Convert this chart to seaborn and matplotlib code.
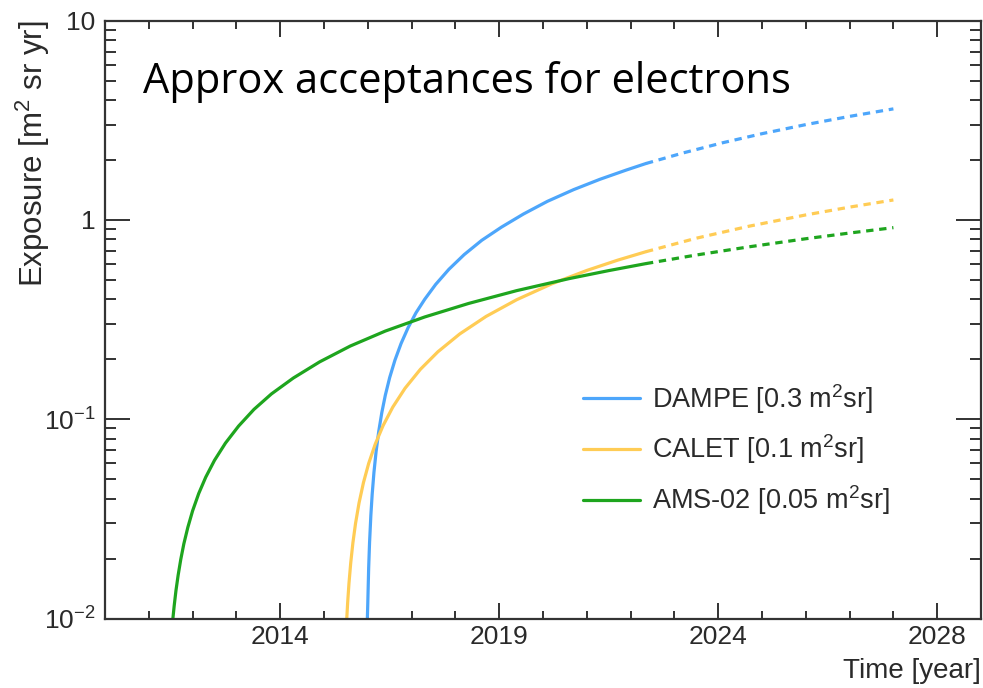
import matplotlib
matplotlib.use("Agg")
import numpy as np
import pandas as pd
import matplotlib.pyplot as plt
import matplotlib.dates as mdates
from matplotlib.ticker import FixedLocator, FixedFormatter, NullFormatter
import seaborn as sns

# --- data: exposure [m^2 sr yr] versus time (decimal years) ---
dampe_years = [2015.99, 2016.00, 2016.02, 2016.04, 2016.07, 2016.10, 2016.14, 2016.19,
               2016.25, 2016.32, 2016.40, 2016.50, 2016.62, 2016.76, 2016.92, 2017.10,
               2017.30, 2017.55, 2017.85, 2018.20, 2018.60, 2019.05, 2019.55, 2020.10,
               2020.70, 2021.30, 2021.90, 2022.35]
dampe_expo = [0.010, 0.012, 0.018, 0.024, 0.033, 0.042, 0.054, 0.069,
              0.087, 0.108, 0.132, 0.162, 0.198, 0.240, 0.288, 0.342,
              0.40, 0.475, 0.565, 0.67, 0.79, 0.92, 1.07, 1.24,
              1.42, 1.60, 1.78, 1.92]
dampe_proj_years = [2022.35, 2023.20, 2024.10, 2025.00, 2026.00, 2027.00, 2028.00]
dampe_proj_expo = [1.92, 2.17, 2.44, 2.71, 3.01, 3.31, 3.61]

calet_years = [2015.52, 2015.54, 2015.57, 2015.61, 2015.66, 2015.72, 2015.80, 2015.90,
               2016.02, 2016.17, 2016.35, 2016.57, 2016.85, 2017.20, 2017.60, 2018.10,
               2018.70, 2019.40, 2020.20, 2021.00, 2021.70, 2022.35]
calet_expo = [0.010, 0.012, 0.015, 0.019, 0.024, 0.030, 0.038, 0.048,
              0.060, 0.075, 0.093, 0.115, 0.143, 0.178, 0.218, 0.268,
              0.328, 0.398, 0.478, 0.558, 0.628, 0.693]
calet_proj_years = [2022.35, 2023.50, 2024.70, 2026.00, 2027.00, 2028.00]
calet_proj_expo = [0.693, 0.81, 0.93, 1.06, 1.16, 1.26]

ams_years = [2011.55, 2011.58, 2011.62, 2011.67, 2011.73, 2011.80, 2011.89, 2012.00,
             2012.14, 2012.30, 2012.50, 2012.75, 2013.05, 2013.40, 2013.80, 2014.30,
             2014.90, 2015.60, 2016.40, 2017.30, 2018.30, 2019.40, 2020.60, 2021.50,
             2022.35]
ams_expo = [0.010, 0.0116, 0.0138, 0.0165, 0.0198, 0.0237, 0.0286, 0.0347,
            0.0424, 0.0512, 0.0622, 0.0759, 0.0924, 0.112, 0.134, 0.161,
            0.194, 0.233, 0.277, 0.326, 0.381, 0.442, 0.508, 0.557,
            0.604]
ams_proj_years = [2022.35, 2023.50, 2024.70, 2026.00, 2027.00, 2028.00]
ams_proj_expo = [0.604, 0.667, 0.733, 0.805, 0.860, 0.915]

labels = ["DAMPE [0.3 m$^2$sr]", "CALET [0.1 m$^2$sr]", "AMS-02 [0.05 m$^2$sr]"]
colors = ["#4da6fb", "#ffcc55", "#1ea51e"]
year_tick_labels = ["2014", "2019", "2024", "2028"]
y_tick_values = [0.01, 0.1, 1, 10]
y_tick_labels = ["$10^{-2}$", "$10^{-1}$", "1", "10"]

BASE = pd.Timestamp("2010-01-01")


def to_dates(years):
    return [BASE + pd.Timedelta(days=(y - 2010.0) * 365.25) for y in years]


sns.set_theme(style="ticks")
plt.rcParams["font.family"] = ["Liberation Sans", "DejaVu Sans"]
plt.rcParams["mathtext.fontset"] = "custom"
plt.rcParams["mathtext.rm"] = "Liberation Sans"
plt.rcParams["mathtext.it"] = "Liberation Sans:italic"
plt.rcParams["mathtext.bf"] = "Liberation Sans:bold"

fig = plt.figure(figsize=(9.83, 6.88), dpi=100)
ax = fig.add_axes([105 / 983, 1 - 618.5 / 688, 876 / 983, (618.5 - 20.7) / 688])

series = [
    (dampe_years, dampe_expo, dampe_proj_years, dampe_proj_expo),
    (calet_years, calet_expo, calet_proj_years, calet_proj_expo),
    (ams_years, ams_expo, ams_proj_years, ams_proj_expo),
]
for (yrs, ex, pyrs, pex), lab, col in zip(series, labels, colors):
    df = pd.DataFrame({"time": to_dates(yrs), "exposure": ex})
    dfp = pd.DataFrame({"time": to_dates(pyrs), "exposure": pex})
    sns.lineplot(data=df, x="time", y="exposure", ax=ax, color=col, lw=2.3,
                 label=lab, estimator=None, sort=False)
    sns.lineplot(data=dfp, x="time", y="exposure", ax=ax, color=col, lw=2.3,
                 estimator=None, sort=False, linestyle=(0, (2.3, 1.8)))

ax.set_yscale("log")
ax.set_ylim(0.01, 10)
ax.set_xlim(mdates.date2num(BASE), mdates.date2num(pd.Timestamp("2030-01-01")))

# time axis: major divisions every 1826 days from 2014-01-01, five minor steps each
t0 = mdates.date2num(pd.Timestamp("2014-01-01"))
majors = [t0 + k * 1826 for k in range(4)]
minors = [t0 + j * 1826 / 5 for j in range(-10, 20)]
minors = [m for m in minors if ax.get_xlim()[0] < m < ax.get_xlim()[1]
          and all(abs(m - M) > 1 for M in majors)]
ax.xaxis.set_major_locator(FixedLocator(majors))
ax.xaxis.set_major_formatter(FixedFormatter(year_tick_labels))
ax.xaxis.set_minor_locator(FixedLocator(minors))
ax.xaxis.set_minor_formatter(NullFormatter())

ax.yaxis.set_major_locator(FixedLocator(y_tick_values))
ax.yaxis.set_major_formatter(FixedFormatter(y_tick_labels))
ymin = [m * d for d in (0.01, 0.1, 1) for m in range(2, 10)]
ax.yaxis.set_minor_locator(FixedLocator(ymin))
ax.yaxis.set_minor_formatter(NullFormatter())

edge = "#333333"
for s in ax.spines.values():
    s.set_visible(True)
    s.set_linewidth(1.6)
    s.set_color(edge)

ax.tick_params(axis="both", which="both", direction="in", top=True, right=True,
               color="#222222", labelcolor="#2a2a2a", labelsize=19)
ax.tick_params(axis="x", which="major", length=11.5, width=1.3, pad=5)
ax.tick_params(axis="x", which="minor", length=6, width=1.3)
ax.tick_params(axis="y", which="major", length=18, width=1.3, pad=7)
ax.tick_params(axis="y", which="minor", length=8, width=1.3)

ax.set_xlabel("Time [year]", fontsize=20, color="#2a2a2a", loc="right")
ax.set_ylabel("Exposure [m$^2$ sr yr]", fontsize=22.5, color="#2a2a2a", loc="top")
ax.xaxis.set_label_coords(1.0, -0.066)
ax.yaxis.set_label_coords(-0.061, 1.0)

leg = ax.legend(loc="upper left", bbox_to_anchor=(583 / 983, 1 - 382 / 688),
                bbox_transform=fig.transFigure, frameon=False, fontsize=19.5,
                handlelength=2.1, handletextpad=0.45, labelspacing=0.62,
                borderpad=0, borderaxespad=0)
for t in leg.get_texts():
    t.set_color("#2a2a2a")

fig.text(143 / 983, 1 - 93 / 688, "Approx acceptances for electrons",
         fontsize=30, family=["Open Sans", "DejaVu Sans"], color="black",
         ha="left", va="baseline")

fig.savefig("out.png", dpi=100, facecolor="white")
